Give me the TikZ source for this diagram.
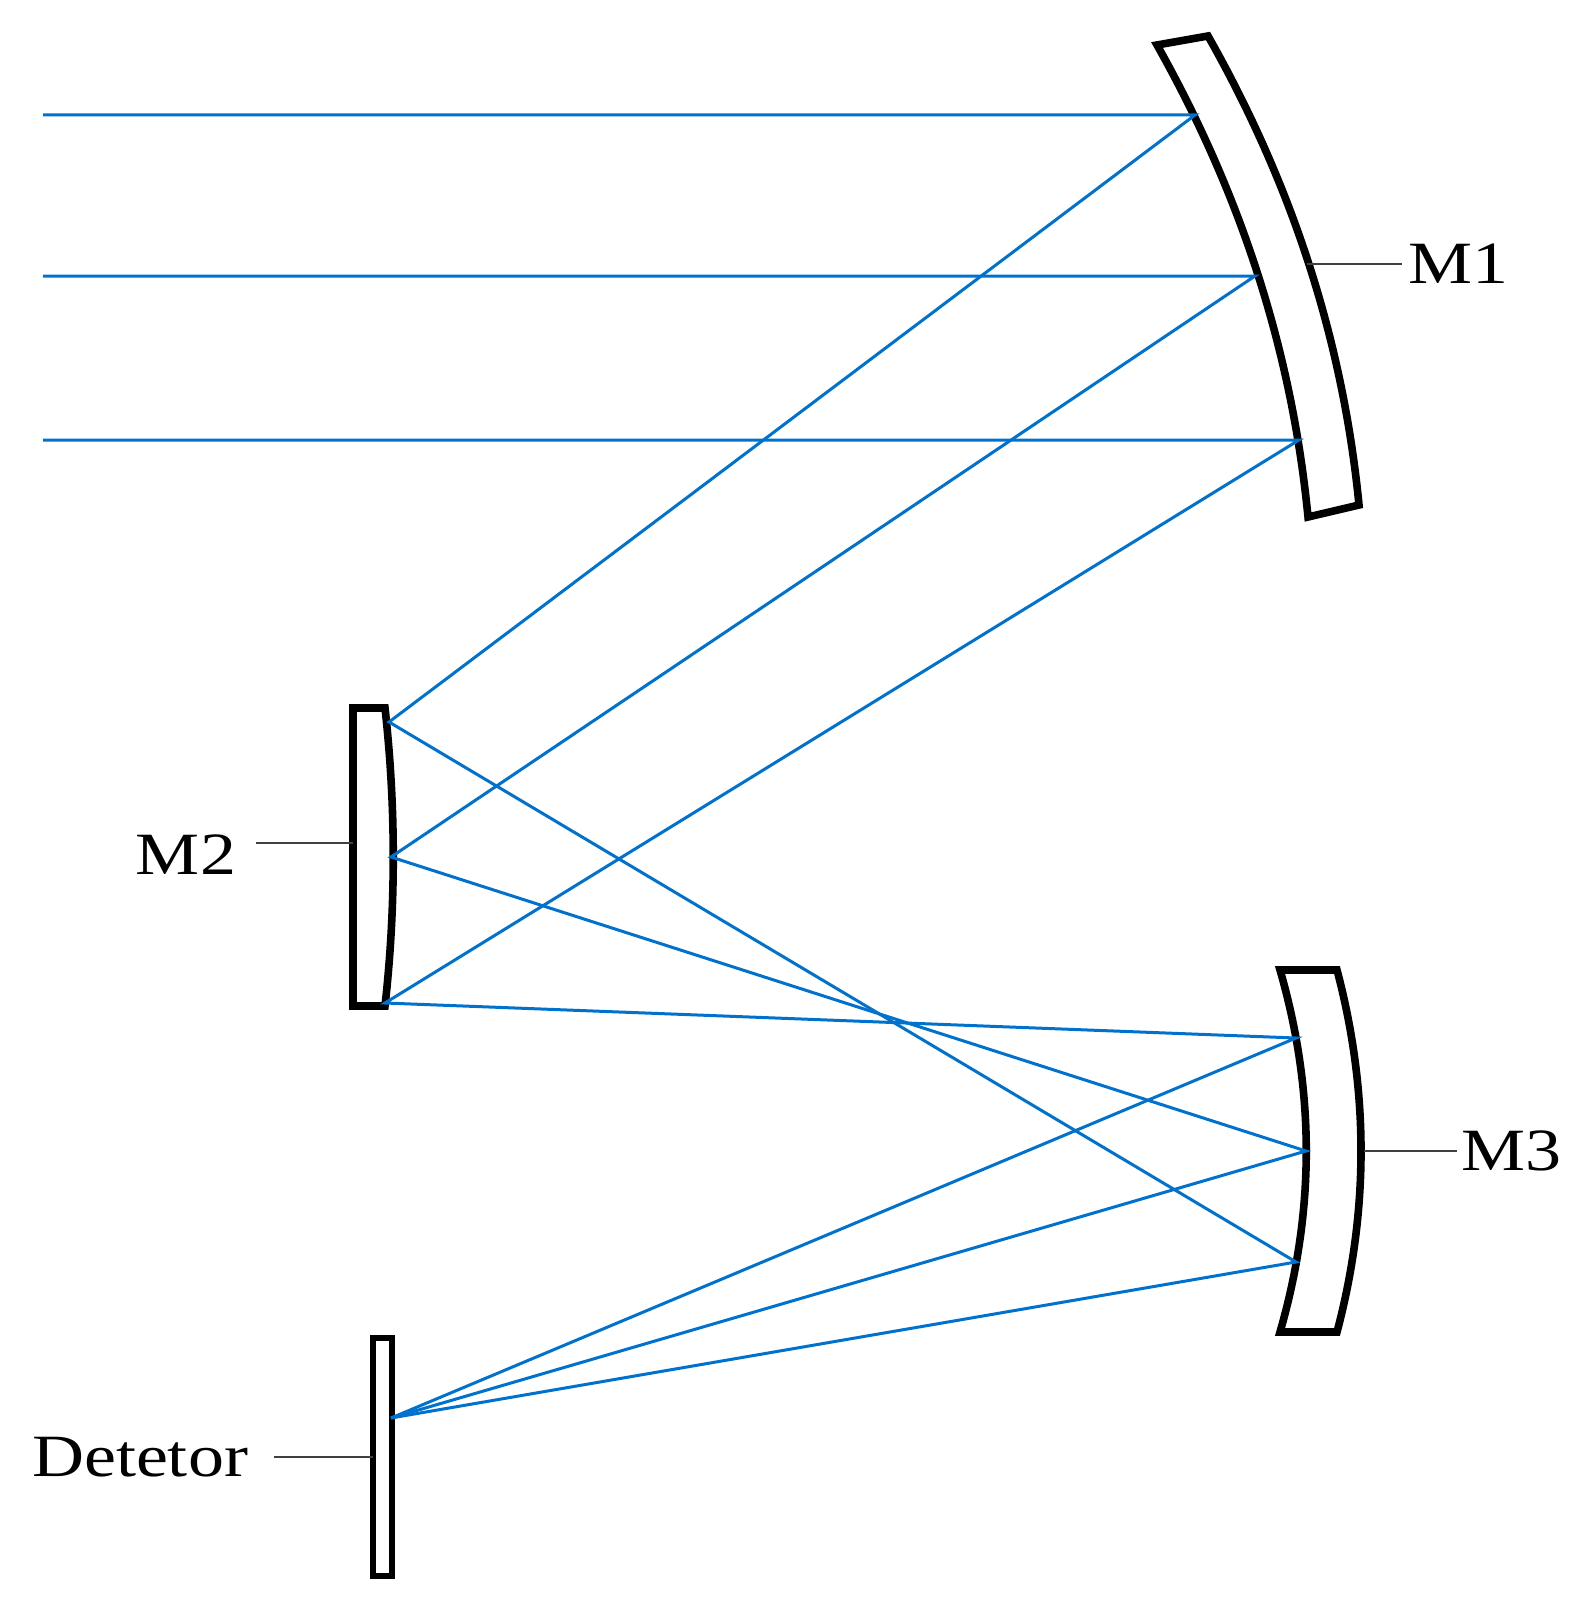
\documentclass[tikz,border=0pt]{standalone}
\usepackage{fontspec}
\setmainfont{Liberation Serif}
\begin{document}
\begin{tikzpicture}[x=0.5pt,y=-0.5pt,
  mirror/.style={line width=3.8pt,line join=miter,fill=white},
  ray/.style={draw=rayblue,line width=1.5pt},
  lead/.style={draw=black!75,line width=0.7pt},
  lbl/.style={font=\fontsize{30}{30}\selectfont,xscale=1.2,inner sep=0pt}]
\definecolor{rayblue}{RGB}{0,114,206}
\useasboundingbox (0,0) rectangle (1584,1621);
% mirrors
\draw[mirror] (1157,45) -- (1208,36) .. controls (1293,186) and (1343,342) .. (1359,505) -- (1308,517) .. controls (1292,353) and (1242,196) .. cycle;
\draw[mirror] (353,708) -- (385,708) .. controls (396,807) and (396,907) .. (385,1006) -- (353,1006) -- cycle;
\draw[mirror] (1280,970) -- (1337,970) .. controls (1369,1091) and (1369,1211) .. (1337,1332) -- (1280,1332) .. controls (1315,1211) and (1315,1091) .. cycle;
\draw[mirror,line width=3pt] (373,1338) rectangle (392,1576);
% hit points
\coordinate (s1) at (43,115); \coordinate (s2) at (43,276); \coordinate (s3) at (43,440);
\coordinate (a1) at (1195,115); \coordinate (a2) at (1255,276); \coordinate (a3) at (1299,440);
\coordinate (b1) at (389,722); \coordinate (b2) at (391,857); \coordinate (b3) at (385,1003);
\coordinate (c1) at (1296,1038); \coordinate (c2) at (1306,1151); \coordinate (c3) at (1296,1262);
\coordinate (d) at (391,1418);
% rays
\draw[ray] (s1) -- (a1) -- (b1) -- (c3) -- (d);
\draw[ray] (s2) -- (a2) -- (b2) -- (c2) -- (d);
\draw[ray] (s3) -- (a3) -- (b3) -- (c1) -- (d);
% labels
\node[lbl] (m1) at (1458,264) {M1};
\node[lbl] (m2) at (186,855) {M2};
\node[lbl] (m3) at (1511,1151) {M3};
\node[lbl] (det) at (140,1457) {Detetor};
\coordinate (m1a) at (1307,264); \coordinate (m1b) at (1402,264);
\coordinate (m2a) at (256,843); \coordinate (m2b) at (353,843);
\coordinate (m3a) at (1364,1151); \coordinate (m3b) at (1457,1151);
\coordinate (da) at (274,1457); \coordinate (db) at (373,1457);
\draw[lead] (m1a) -- (m1b);
\draw[lead] (m2a) -- (m2b);
\draw[lead] (m3a) -- (m3b);
\draw[lead] (da) -- (db);
\end{tikzpicture}
\end{document}
